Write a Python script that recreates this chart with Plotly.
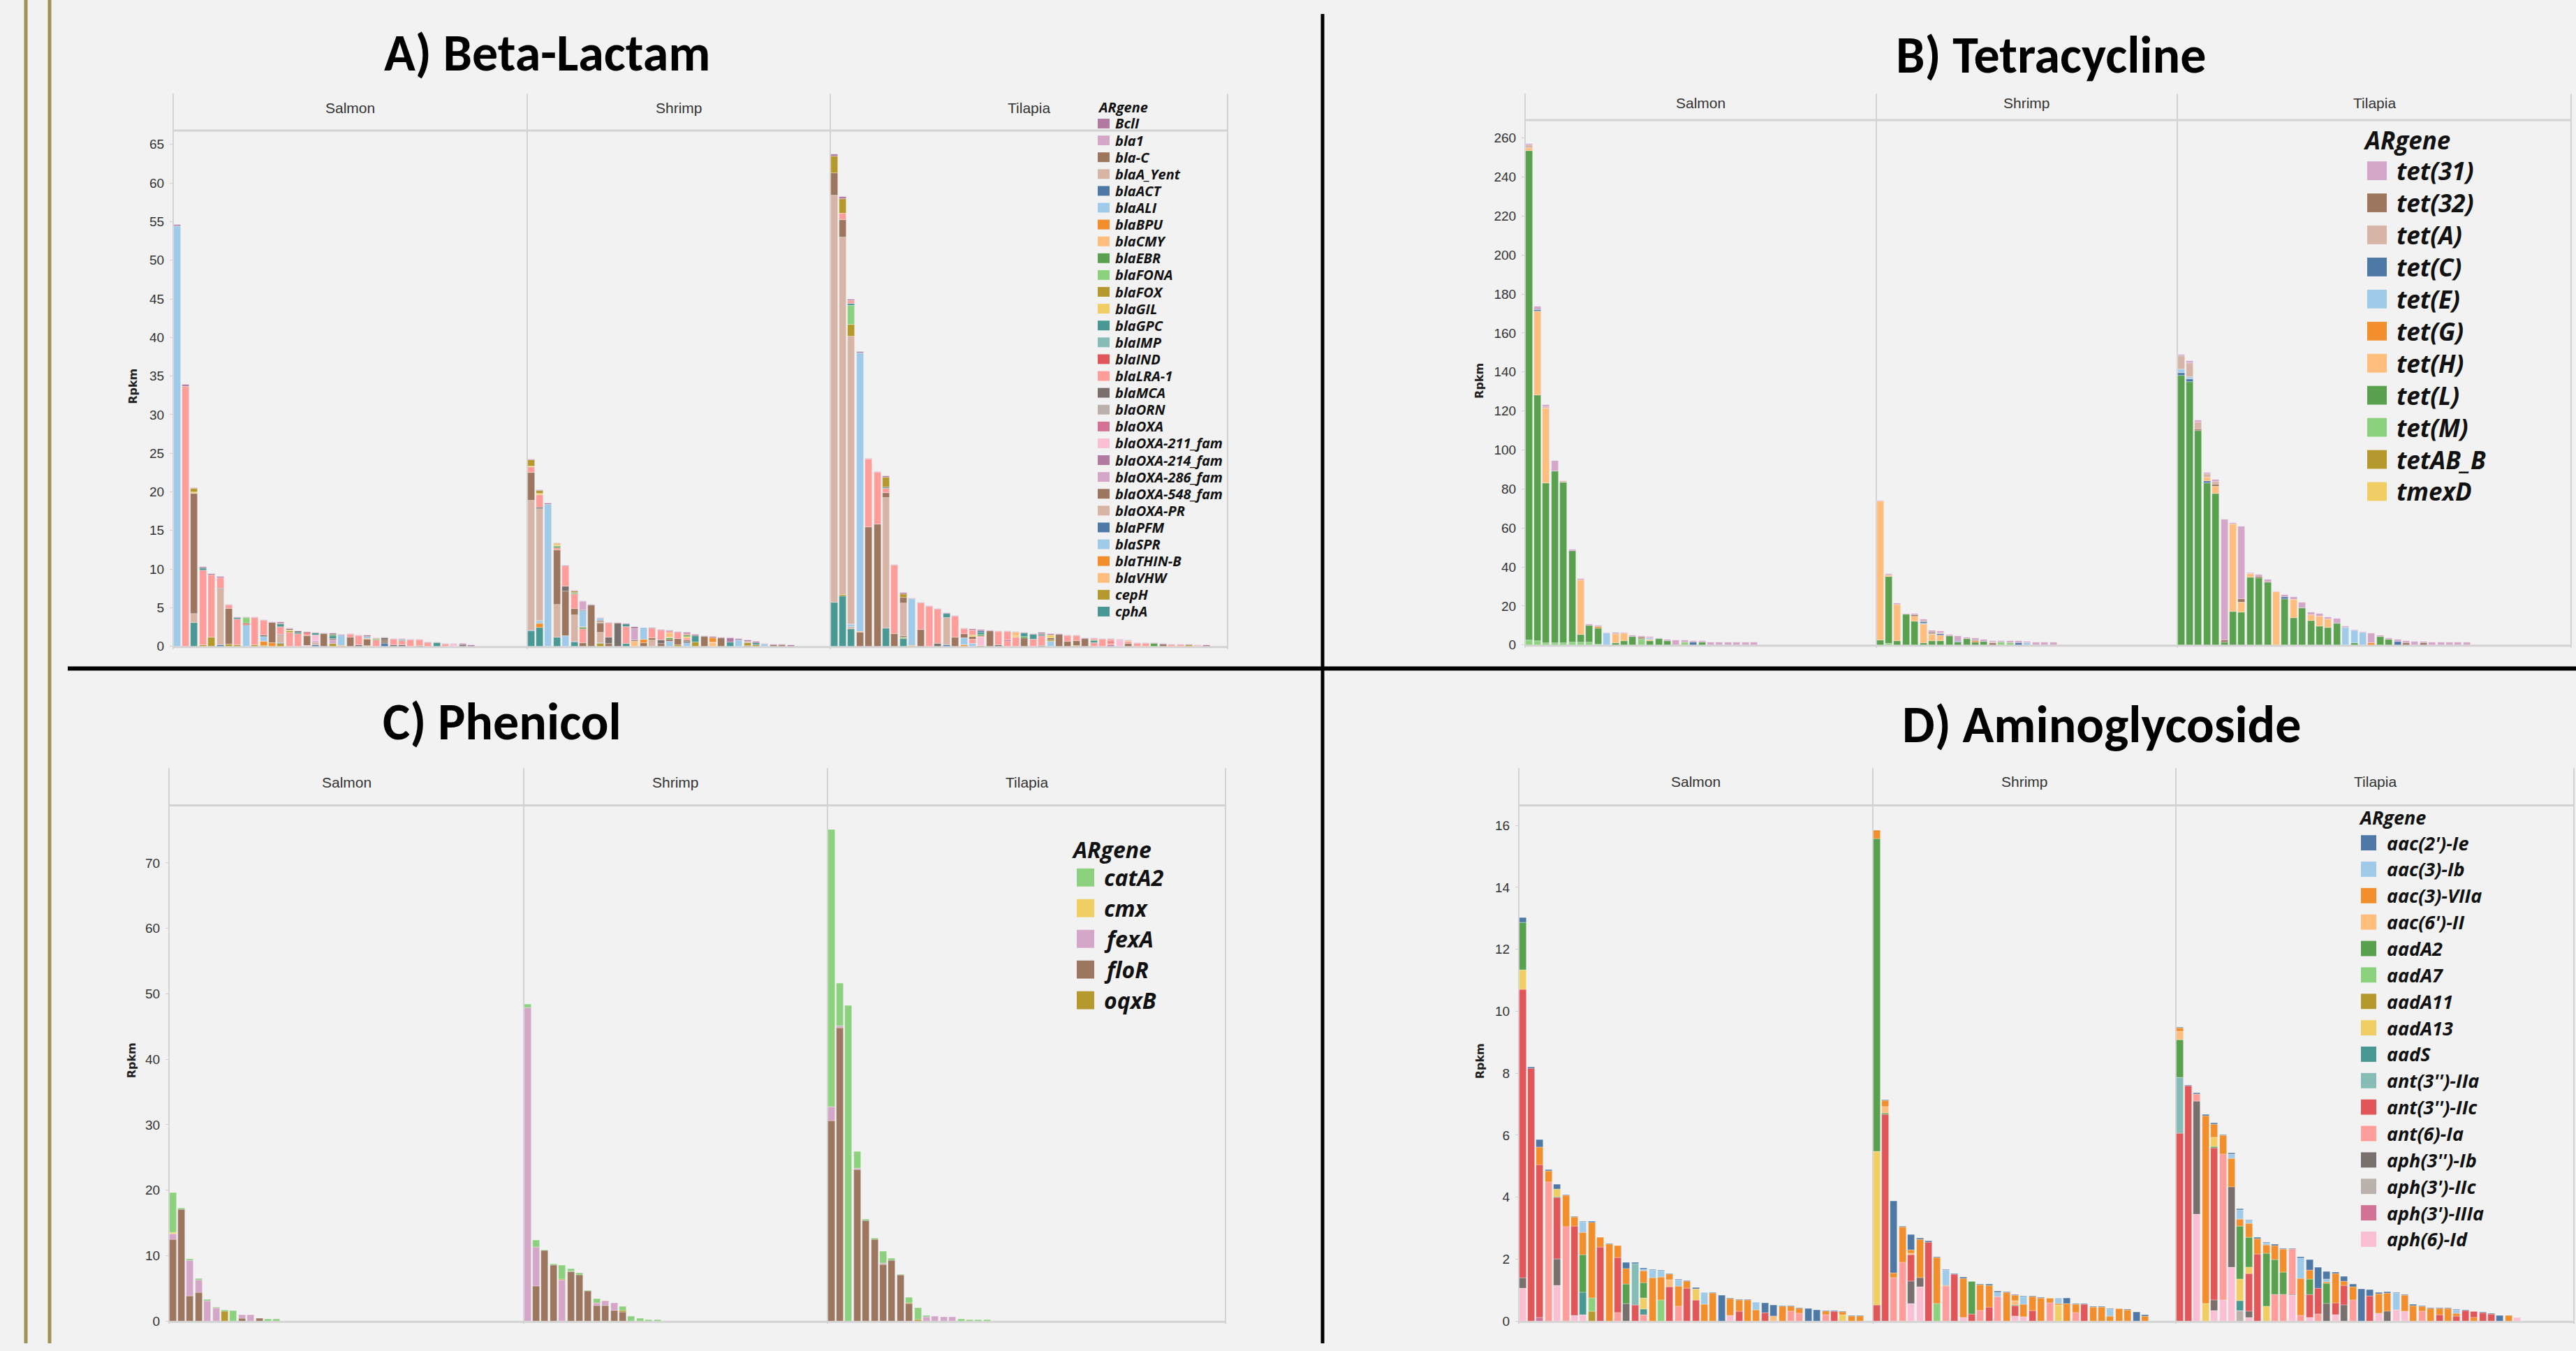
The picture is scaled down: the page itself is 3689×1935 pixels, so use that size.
import plotly.graph_objects as go

W, H = 3689, 1935
PITCH = 12.4


def fx(x):
    return x / W


def fy(y):
    return 1 - y / H


# Tableau-20 colour codes
COLORS = {"bl": "#4E79A7", "lb": "#A0CBE8", "or": "#F28E2B", "lo": "#FFBE7D", "gr": "#59A14F",
          "lg": "#8CD17D", "ol": "#B6992D", "ye": "#F1CE63", "te": "#499894", "lt": "#86BCB6",
          "rd": "#E15759", "lr": "#FF9D9A", "gy": "#79706E", "lgy": "#BAB0AC", "pk": "#D37295",
          "lp": "#FABFD2", "pu": "#B07AA1", "lpu": "#D4A6C8", "br": "#9D7660", "lbr": "#D7B5A6"}

FACETS = ["Salmon", "Shrimp", "Tilapia"]

# ---------------- legends (gene, colour code) ----------------
A_legend = [("BclI", "pu"), ("bla1", "lpu"), ("bla-C", "br"), ("blaA_Yent", "lbr"), ("blaACT", "bl"),
            ("blaALI", "lb"), ("blaBPU", "or"), ("blaCMY", "lo"), ("blaEBR", "gr"), ("blaFONA", "lg"),
            ("blaFOX", "ol"), ("blaGIL", "ye"), ("blaGPC", "te"), ("blaIMP", "lt"), ("blaIND", "rd"),
            ("blaLRA-1", "lr"), ("blaMCA", "gy"), ("blaORN", "lgy"), ("blaOXA", "pk"),
            ("blaOXA-211_fam", "lp"), ("blaOXA-214_fam", "pu"), ("blaOXA-286_fam", "lpu"),
            ("blaOXA-548_fam", "br"), ("blaOXA-PR", "lbr"), ("blaPFM", "bl"), ("blaSPR", "lb"),
            ("blaTHIN-B", "or"), ("blaVHW", "lo"), ("cepH", "ol"), ("cphA", "te")]
A_code_gene = {"pu": "BclI", "lpu": "bla1", "br": "bla-C", "lbr": "blaA_Yent", "bl": "blaACT",
               "lb": "blaALI", "or": "blaBPU", "lo": "blaCMY", "gr": "blaEBR", "lg": "blaFONA",
               "ol": "cepH", "ye": "blaGIL", "te": "cphA", "lt": "blaIMP", "rd": "blaIND",
               "lr": "blaLRA-1", "gy": "blaMCA", "lgy": "blaORN", "pk": "blaOXA", "lp": "blaOXA-211_fam"}

B_legend = [("tet(31)", "lpu"), ("tet(32)", "br"), ("tet(A)", "lbr"), ("tet(C)", "bl"), ("tet(E)", "lb"),
            ("tet(G)", "or"), ("tet(H)", "lo"), ("tet(L)", "gr"), ("tet(M)", "lg"), ("tetAB_B", "ol"),
            ("tmexD", "ye")]
C_legend = [("catA2", "lg"), ("cmx", "ye"), ("fexA", "lpu"), ("floR", "br"), ("oqxB", "ol")]
D_legend = [("aac(2')-Ie", "bl"), ("aac(3)-Ib", "lb"), ("aac(3)-VIIa", "or"), ("aac(6')-II", "lo"),
            ("aadA2", "gr"), ("aadA7", "lg"), ("aadA11", "ol"), ("aadA13", "ye"), ("aadS", "te"),
            ("ant(3'')-IIa", "lt"), ("ant(3'')-IIc", "rd"), ("ant(6)-Ia", "lr"), ("aph(3'')-Ib", "gy"),
            ("aph(3')-IIc", "lgy"), ("aph(3')-IIIa", "pk"), ("aph(6)-Id", "lp")]

# ---------------- data: each bar = stacked segments (colour code, Rpkm) bottom->top ----------------
A_salmon = [
    [("lb", 54.4), ("pu", 0.2)],
    [("lr", 33.6), ("pu", 0.3)],
    [("te", 3.06), ("lbr", 1.14), ("br", 15.6), ("ye", 0.2), ("ol", 0.45), ("pu", 0.1)],
    [("ol", 0.2), ("lr", 9.6), ("te", 0.33), ("pu", 0.2)],
    [("ol", 1.2), ("lr", 8.0), ("pu", 0.15)],
    [("bl", 0.2), ("lbr", 7.2), ("gy", 0.1), ("lr", 1.35), ("pu", 0.15)],
    [("ol", 0.25), ("br", 4.6), ("lr", 0.45), ("pu", 0.1)],
    [("ol", 0.2), ("lr", 3.33), ("te", 0.15), ("pu", 0.1)],
    [("lb", 2.7), ("br", 0.1), ("rd", 0.2), ("lg", 0.65), ("pu", 0.1)],
    [("ol", 0.2), ("lr", 3.45), ("pu", 0.1)],
    [("ol", 0.1), ("or", 0.5), ("lb", 0.65), ("gy", 0.15), ("lr", 1.9), ("pu", 0.1)],
    [("or", 0.45), ("br", 2.6), ("pu", 0.1)],
    [("ol", 0.3), ("bl", 0.1), ("lbr", 1.0), ("gy", 0.1), ("lr", 1.0), ("te", 0.35), ("br", 0.15), ("pu", 0.1)],
    [("lr", 1.8), ("ol", 0.15), ("ye", 0.15), ("br", 0.15), ("pu", 0.05)],
    [("lr", 1.65), ("te", 0.15), ("gy", 0.15)],
    [("lp", 0.1), ("br", 1.2), ("lr", 0.3), ("rd", 0.2), ("pu", 0.05)],
    [("bl", 0.15), ("lbr", 0.35), ("lpu", 0.2), ("lp", 0.7), ("te", 0.3), ("pu", 0.1)],
    [("br", 1.6), ("pu", 0.1)],
    [("ol", 0.3), ("lpu", 0.5), ("br", 0.15), ("te", 0.35), ("gr", 0.2), ("pu", 0.2)],
    [("or", 0.1), ("lb", 1.35), ("pu", 0.1)],
    [("br", 1.2), ("lr", 0.3), ("pu", 0.1)],
    [("gy", 0.2), ("lr", 1.15), ("pu", 0.1)],
    [("lbr", 0.1), ("br", 0.75), ("or", 0.1), ("lb", 0.3), ("pu", 0.15)],
    [("lr", 0.75), ("gr", 0.1), ("ol", 0.15), ("pu", 0.1)],
    [("bl", 0.35), ("gy", 0.2), ("br", 0.2), ("gy", 0.3), ("pu", 0.1)],
    [("gy", 0.15), ("lr", 0.7), ("pu", 0.15)],
    [("gy", 0.2), ("lr", 0.5), ("te", 0.1), ("lb", 0.1), ("pu", 0.05)],
    [("lr", 0.8), ("pu", 0.07)],
    [("br", 0.1), ("lr", 0.65), ("pu", 0.1)],
    [("lr", 0.3), ("rd", 0.1), ("pu", 0.1)],
    [("te", 0.4), ("pu", 0.1)],
    [("lr", 0.25), ("pu", 0.1)],
    [("lp", 0.25), ("pu", 0.1)],
    [("gy", 0.2), ("pu", 0.13)],
    [("pu", 0.15)],
]
A_shrimp = [
    [("te", 1.95), ("bl", 0.1), ("lbr", 16.8), ("br", 3.6), ("lr", 0.75), ("ye", 0.15), ("ol", 0.75), ("pu", 0.1)],
    [("te", 2.4), ("or", 0.6), ("lb", 0.2), ("bl", 0.1), ("lbr", 14.5), ("gy", 0.15), ("lr", 1.65), ("ye", 0.15), ("ol", 0.35), ("pu", 0.1)],
    [("lb", 18.3), ("pu", 0.2)],
    [("te", 1.15), ("lbr", 4.3), ("br", 7.0), ("lr", 0.3), ("gr", 0.15), ("te", 0.1), ("ye", 0.15), ("or", 0.1), ("pu", 0.1)],
    [("lb", 1.35), ("br", 5.8), ("gy", 0.6), ("lr", 2.6), ("pu", 0.1)],
    [("te", 0.5), ("bl", 0.1), ("lbr", 3.45), ("br", 0.8), ("lr", 1.9), ("gr", 0.1), ("te", 0.1), ("ol", 0.2), ("pu", 0.1)],
    [("br", 0.45), ("lr", 1.8), ("gr", 0.15), ("or", 0.1), ("lb", 2.1), ("gy", 0.1), ("lpu", 1.1), ("pu", 0.1)],
    [("br", 5.3), ("pu", 0.1)],
    [("ol", 0.3), ("bl", 0.1), ("lbr", 1.35), ("br", 1.2), ("gy", 0.1), ("or", 0.1), ("br", 0.15), ("lb", 0.3), ("pu", 0.1)],
    [("br", 0.3), ("gy", 0.9), ("lr", 1.75), ("pu", 0.1)],
    [("gy", 2.95), ("pu", 0.1)],
    [("te", 0.3), ("lr", 2.25), ("te", 0.3), ("pu", 0.1)],
    [("lo", 0.65), ("br", 0.15), ("lpu", 1.45), ("pu", 0.25)],
    [("br", 0.4), ("or", 0.5), ("lb", 1.5), ("pu", 0.05)],
    [("lbr", 0.75), ("br", 0.3), ("lr", 1.25), ("pu", 0.1)],
    [("br", 0.3), ("gy", 0.45), ("lr", 1.3), ("pu", 0.1)],
    [("lb", 0.65), ("br", 0.2), ("gr", 0.2), ("ye", 0.1), ("lo", 0.55), ("lr", 0.25), ("pu", 0.1)],
    [("ol", 0.15), ("br", 0.8), ("lr", 0.8), ("pu", 0.1)],
    [("lb", 0.45), ("gy", 0.2), ("br", 0.15), ("lr", 0.3), ("ye", 0.15), ("gr", 0.15), ("lr", 0.25), ("pu", 0.1)],
    [("ol", 0.55), ("te", 0.8), ("pu", 0.15)],
    [("br", 1.25), ("pu", 0.1)],
    [("lo", 0.4), ("lr", 0.15), ("or", 0.55), ("pu", 0.15)],
    [("br", 1.05), ("pu", 0.1)],
    [("te", 0.5), ("pu", 0.55), ("lpu", 0.1)],
    [("lb", 0.75), ("pu", 0.2)],
    [("br", 0.1), ("ol", 0.3), ("te", 0.1), ("lr", 0.15), ("pu", 0.15)],
    [("ol", 0.15), ("te", 0.3), ("pu", 0.2)],
    [("lb", 0.25), ("pu", 0.1)],
    [("br", 0.15), ("pu", 0.1)],
    [("br", 0.15), ("pu", 0.1)],
    [("pu", 0.12)],
]
A_tilapia = [
    [("te", 5.7), ("lbr", 52.7), ("br", 2.9), ("ol", 2.2), ("pu", 0.2)],
    [("te", 6.5), ("ol", 0.2), ("lbr", 46.3), ("br", 2.2), ("lr", 0.8), ("ol", 1.9), ("pu", 0.3)],
    [("te", 2.25), ("lbr", 0.3), ("lb", 0.2), ("pu", 0.1), ("lbr", 37.3), ("ol", 1.55), ("lg", 2.4), ("te", 0.3), ("lr", 0.3), ("pu", 0.2)],
    [("br", 1.8), ("or", 0.1), ("lb", 36.1), ("pu", 0.1)],
    [("br", 15.4), ("lr", 8.8), ("pu", 0.1)],
    [("br", 15.8), ("lr", 6.7), ("pu", 0.1)],
    [("te", 2.35), ("lbr", 16.85), ("br", 0.65), ("lr", 0.55), ("te", 0.2), ("ol", 1.3), ("pu", 0.1)],
    [("br", 1.6), ("lr", 8.9), ("pu", 0.1)],
    [("te", 0.95), ("ol", 0.1), ("gr", 0.1), ("br", 0.15), ("lbr", 4.25), ("br", 0.75), ("ol", 0.5), ("pu", 0.15)],
    [("or", 0.1), ("lb", 6.0), ("pu", 0.15)],
    [("br", 2.15), ("lr", 3.4), ("pu", 0.15)],
    [("lr", 5.1), ("pu", 0.15)],
    [("gy", 0.3), ("lr", 4.45), ("pu", 0.15)],
    [("bl", 0.15), ("lbr", 3.5), ("te", 0.55), ("pu", 0.15)],
    [("br", 1.2), ("lr", 2.65), ("pu", 0.1)],
    [("or", 0.2), ("lb", 0.85), ("br", 0.6), ("lr", 0.55), ("pu", 0.1)],
    [("lb", 0.35), ("lr", 0.5), ("br", 0.4), ("ye", 0.2), ("lr", 0.6), ("pu", 0.15)],
    [("br", 0.1), ("lp", 1.05), ("lr", 0.2), ("gr", 0.2), ("te", 0.25), ("bl", 0.2), ("pu", 0.15)],
    [("br", 1.95), ("pu", 0.1)],
    [("gy", 0.2), ("lr", 1.65), ("pu", 0.1)],
    [("lr", 0.6), ("pk", 0.2), ("lr", 1.05), ("pu", 0.1)],
    [("lr", 1.2), ("ye", 0.15), ("lo", 0.45), ("pu", 0.05)],
    [("br", 1.1), ("gr", 0.15), ("te", 0.45), ("pu", 0.1)],
    [("lr", 0.9), ("te", 0.6), ("pu", 0.1)],
    [("gy", 0.1), ("lr", 1.15), ("rd", 0.1), ("te", 0.15), ("br", 0.15), ("pu", 0.1)],
    [("lb", 0.6), ("ol", 0.2), ("br", 0.3), ("ye", 0.3), ("pu", 0.2)],
    [("br", 1.5), ("pu", 0.1)],
    [("br", 0.6), ("lr", 0.7), ("pu", 0.1)],
    [("ol", 0.1), ("br", 0.6), ("lr", 0.6), ("pu", 0.1)],
    [("br", 1.0), ("pu", 0.1)],
    [("lr", 0.4), ("te", 0.3), ("gr", 0.1), ("lr", 0.2), ("pu", 0.1)],
    [("lr", 0.9), ("pu", 0.1)],
    [("pu", 0.15), ("lr", 0.3), ("rd", 0.15), ("lr", 0.3), ("pu", 0.1)],
    [("lp", 0.8), ("pu", 0.1)],
    [("br", 0.3), ("lr", 0.3), ("ye", 0.1), ("pu", 0.1)],
    [("lr", 0.3), ("pu", 0.1)],
    [("lr", 0.3), ("pu", 0.1)],
    [("gr", 0.3), ("pu", 0.1)],
    [("br", 0.26), ("pu", 0.1)],
    [("lr", 0.15), ("pu", 0.1)],
    [("lr", 0.15), ("pu", 0.1)],
    [("ol", 0.15), ("pu", 0.1)],
    [("lr", 0.1), ("pu", 0.1)],
    [("pu", 0.2)],
]

B_salmon = [
    [("lg", 2.5), ("gr", 251.0), ("lo", 1.5), ("lbr", 1.2), ("lpu", 0.7)],
    [("lg", 2.0), ("gr", 126.0), ("lo", 43.0), ("bl", 0.8), ("lpu", 1.8)],
    [("lg", 1.0), ("gr", 82.0), ("lo", 38.4), ("lbr", 0.7), ("lpu", 1.1)],
    [("lg", 1.0), ("gr", 88.0), ("lpu", 5.4)],
    [("lg", 1.0), ("gr", 82.4), ("lbr", 0.8)],
    [("lg", 1.5), ("gr", 46.6), ("lpu", 1.0)],
    [("lg", 1.2), ("gr", 4.1), ("lo", 27.9), ("lpu", 0.6)],
    [("lg", 1.2), ("gr", 8.9), ("lpu", 0.6)],
    [("lg", 0.3), ("gr", 8.1), ("or", 0.8), ("lpu", 0.7)],
    [("lb", 5.9), ("lpu", 0.4)],
    [("gr", 0.9), ("lo", 4.9), ("lpu", 0.5)],
    [("gr", 2.1), ("lo", 3.8), ("lpu", 0.4)],
    [("gr", 4.2), ("lpu", 0.8)],
    [("lg", 2.6), ("gr", 0.6), ("br", 0.5), ("lpu", 0.8)],
    [("gr", 2.0), ("lo", 0.8), ("lb", 0.6), ("lpu", 0.8)],
    [("gr", 3.0), ("lpu", 0.6)],
    [("gr", 1.9), ("lpu", 0.7)],
    [("lpu", 2.4)],
    [("lg", 1.2), ("lpu", 1.2)],
    [("bl", 1.3), ("lpu", 0.7)],
    [("gr", 1.2), ("lpu", 0.8)],
    [("lpu", 1.5)],
    [("lpu", 1.4)],
    [("lpu", 1.4)],
    [("lpu", 1.3)],
    [("lpu", 1.3)],
    [("lpu", 1.2)],
]
B_shrimp = [
    [("gr", 2.4), ("lo", 71.2), ("lpu", 0.5)],
    [("lg", 0.5), ("gr", 34.4), ("lo", 0.8), ("lpu", 0.8)],
    [("gr", 2.1), ("lo", 18.4), ("lpu", 0.9)],
    [("gr", 15.7), ("lpu", 0.3)],
    [("gr", 12.1), ("lo", 2.5), ("br", 0.6), ("lpu", 0.9)],
    [("gr", 1.0), ("lo", 9.5), ("lb", 0.6), ("bl", 0.6), ("br", 0.5), ("lpu", 0.9)],
    [("gr", 2.1), ("lo", 3.2), ("lbr", 0.5), ("br", 0.5), ("lpu", 1.2)],
    [("gr", 2.1), ("lo", 2.9), ("bl", 0.5), ("lbr", 0.6), ("lpu", 0.8)],
    [("gr", 4.5), ("lpu", 0.6)],
    [("gr", 1.2), ("bl", 0.5), ("lpu", 2.8)],
    [("gr", 3.0), ("lpu", 0.8)],
    [("gr", 1.4), ("or", 0.5), ("bl", 0.5), ("lpu", 0.9)],
    [("gr", 1.8), ("lpu", 0.8)],
    [("br", 0.8), ("lbr", 0.4), ("lpu", 0.9)],
    [("lg", 1.2), ("lpu", 0.8)],
    [("lg", 1.1), ("lpu", 0.8)],
    [("bl", 1.1), ("lpu", 0.8)],
    [("lb", 1.0), ("lpu", 0.8)],
    [("lpu", 1.2)],
    [("lpu", 1.2)],
    [("lpu", 1.2)],
]
B_tilapia = [
    [("gr", 138.0), ("bl", 1.5), ("lb", 1.8), ("lbr", 7.0), ("lpu", 0.6)],
    [("gr", 134.8), ("bl", 1.5), ("lb", 1.2), ("lbr", 7.2), ("lpu", 0.9)],
    [("gr", 109.7), ("br", 1.0), ("lbr", 3.5), ("lpu", 0.9)],
    [("gr", 83.1), ("bl", 0.9), ("lo", 2.0), ("lbr", 1.5), ("lpu", 0.8)],
    [("gr", 77.6), ("lo", 3.7), ("br", 0.8), ("lbr", 1.6), ("lpu", 0.9)],
    [("gr", 1.5), ("br", 1.0), ("lpu", 62.0)],
    [("gr", 17.0), ("lo", 44.7), ("lpu", 0.7)],
    [("gr", 16.6), ("lo", 5.3), ("br", 1.7), ("lpu", 37.0)],
    [("gr", 34.5), ("lo", 1.8), ("lbr", 0.5), ("lpu", 0.5)],
    [("gr", 34.3), ("br", 0.8), ("lpu", 0.9)],
    [("gr", 32.3), ("lpu", 1.1)],
    [("lo", 27.0), ("lpu", 0.5)],
    [("gr", 23.5), ("bl", 1.0), ("lpu", 1.2)],
    [("gr", 13.7), ("lo", 9.4), ("lpu", 1.5)],
    [("gr", 18.8), ("lpu", 3.0)],
    [("gr", 12.6), ("lo", 2.8), ("lpu", 1.2)],
    [("gr", 9.4), ("lo", 5.2), ("lpu", 1.3)],
    [("gr", 8.7), ("lo", 4.6), ("lpu", 0.9)],
    [("gr", 10.9), ("lpu", 2.6)],
    [("lb", 8.7), ("lpu", 0.7)],
    [("gr", 0.8), ("lb", 6.5), ("lpu", 0.5)],
    [("lb", 6.3), ("lpu", 0.5)],
    [("or", 1.0), ("lpu", 5.1)],
    [("gr", 4.3), ("lpu", 0.7)],
    [("gr", 2.8), ("lpu", 0.7)],
    [("bl", 1.6), ("lpu", 1.2)],
    [("br", 1.0), ("lpu", 1.0)],
    [("lpu", 1.8)],
    [("br", 1.0), ("lpu", 0.6)],
    [("lpu", 1.4)],
    [("lpu", 1.3)],
    [("lpu", 1.2)],
    [("lpu", 1.2)],
    [("lpu", 1.2)],
]

C_salmon = [
    [("br", 12.5), ("lpu", 0.8), ("ye", 0.2), ("lg", 6.1)],
    [("br", 17.0), ("lg", 0.3)],
    [("br", 3.8), ("lpu", 5.5), ("lg", 0.2)],
    [("br", 4.3), ("lpu", 2.0), ("lg", 0.2)],
    [("lpu", 3.1), ("lg", 0.2)],
    [("lpu", 2.0), ("lg", 0.1)],
    [("ol", 1.5), ("lg", 0.2)],
    [("lg", 1.6)],
    [("br", 0.4), ("lpu", 0.5)],
    [("lpu", 0.9)],
    [("br", 0.45)],
    [("lg", 0.25)],
    [("lg", 0.25)],
]
C_shrimp = [
    [("lpu", 47.9), ("lg", 0.5)],
    [("br", 5.3), ("lpu", 6.0), ("lg", 1.0)],
    [("br", 10.7), ("lg", 0.2)],
    [("br", 8.5), ("lg", 0.2)],
    [("lpu", 6.3), ("ol", 0.1), ("lg", 2.1)],
    [("br", 7.5), ("ol", 0.1), ("lg", 0.4)],
    [("br", 7.0), ("lg", 0.3)],
    [("br", 4.6), ("lg", 0.1)],
    [("br", 2.3), ("lpu", 0.4), ("lg", 0.7)],
    [("br", 2.3), ("lpu", 0.8)],
    [("br", 1.6), ("lpu", 1.1)],
    [("br", 1.4), ("ol", 0.2), ("lg", 0.6)],
    [("lg", 0.7)],
    [("lg", 0.35)],
    [("lg", 0.2)],
    [("lg", 0.2)],
]
C_tilapia = [
    [("br", 30.6), ("lpu", 2.1), ("lg", 42.4)],
    [("br", 44.8), ("lpu", 0.3), ("lg", 6.5)],
    [("lg", 48.2)],
    [("br", 23.1), ("lpu", 0.2), ("lg", 2.6)],
    [("br", 15.3), ("lg", 0.2)],
    [("br", 12.5), ("lg", 0.2)],
    [("br", 8.6), ("lpu", 0.2), ("lg", 1.8)],
    [("br", 9.3), ("lg", 0.3)],
    [("br", 7.0), ("lg", 0.1)],
    [("br", 2.6), ("ol", 0.1), ("lg", 0.9)],
    [("ol", 0.2), ("lg", 1.8)],
    [("lpu", 0.6), ("lg", 0.2)],
    [("lpu", 0.75)],
    [("lpu", 0.65)],
    [("lpu", 0.6)],
    [("lg", 0.3)],
    [("lg", 0.2)],
    [("lg", 0.2)],
    [("lg", 0.2)],
]

D_salmon = [
    [("lp", 1.06), ("gy", 0.33), ("rd", 9.3), ("ye", 0.65), ("gr", 1.52), ("bl", 0.17)],
    [("rd", 8.15), ("bl", 0.05)],
    [("pk", 0.1), ("rd", 4.94), ("or", 0.56), ("bl", 0.26)],
    [("lr", 4.48), ("or", 0.36), ("bl", 0.04)],
    [("lp", 1.15), ("gy", 0.86), ("rd", 1.97), ("gr", 0.03), ("ye", 0.25), ("bl", 0.16)],
    [("lr", 3.03), ("or", 1.02), ("bl", 0.02)],
    [("lp", 0.17), ("rd", 2.89), ("or", 0.3), ("bl", 0.02)],
    [("lp", 0.2), ("te", 0.73), ("gr", 1.21), ("or", 0.72), ("lb", 0.34), ("bl", 0.02)],
    [("ol", 0.32), ("lg", 0.41), ("or", 2.45), ("bl", 0.04)],
    [("rd", 2.39), ("or", 0.3), ("bl", 0.01)],
    [("or", 2.47), ("bl", 0.02)],
    [("lr", 0.27), ("rd", 1.78), ("or", 0.37), ("bl", 0.02)],
    [("gy", 0.56), ("gr", 0.64), ("or", 0.49), ("bl", 0.19)],
    [("rd", 0.51), ("lt", 1.34), ("bl", 0.03)],
    [("lr", 0.2), ("te", 0.17), ("ye", 0.37), ("gr", 0.49), ("or", 0.39), ("lb", 0.05), ("bl", 0.03)],
    [("or", 1.4), ("lb", 0.25), ("bl", 0.02)],
    [("lg", 0.68), ("or", 0.74), ("lb", 0.2), ("bl", 0.02)],
    [("rd", 1.09), ("lo", 0.24), ("or", 0.18), ("bl", 0.01)],
    [("lr", 0.46), ("or", 0.66), ("lb", 0.21), ("bl", 0.02)],
    [("rd", 1.06), ("or", 0.23), ("bl", 0.01)],
    [("rd", 0.68), ("ye", 0.36), ("bl", 0.04)],
    [("or", 0.54), ("lb", 0.37), ("bl", 0.02)],
    [("or", 0.9), ("bl", 0.02)],
    [("bl", 0.84)],
    [("lp", 0.17), ("or", 0.54), ("bl", 0.02)],
    [("rd", 0.3), ("or", 0.38), ("bl", 0.02)],
    [("or", 0.67), ("bl", 0.02)],
    [("or", 0.35), ("lb", 0.25), ("bl", 0.01)],
    [("rd", 0.26), ("bl", 0.32)],
    [("lo", 0.16), ("bl", 0.35)],
    [("or", 0.47), ("bl", 0.02)],
    [("lr", 0.31), ("or", 0.16), ("bl", 0.02)],
    [("lr", 0.25), ("or", 0.15), ("bl", 0.02)],
    [("bl", 0.39)],
    [("bl", 0.36)],
    [("lr", 0.19), ("or", 0.12), ("bl", 0.02)],
    [("rd", 0.31), ("bl", 0.02)],
    [("ye", 0.2), ("or", 0.08), ("bl", 0.02)],
    [("or", 0.15), ("bl", 0.02)],
    [("or", 0.15), ("bl", 0.02)],
]
D_shrimp = [
    [("rd", 0.52), ("ye", 4.96), ("gr", 10.08), ("or", 0.27)],
    [("rd", 6.67), ("gr", 0.03), ("lo", 0.22), ("or", 0.2), ("bl", 0.03)],
    [("lr", 1.4), ("or", 0.15), ("bl", 2.33)],
    [("lr", 1.89), ("or", 1.14), ("bl", 0.03)],
    [("lp", 0.56), ("gy", 0.71), ("rd", 0.86), ("lo", 0.04), ("or", 0.13), ("bl", 0.5)],
    [("lp", 1.1), ("gy", 0.3), ("or", 1.23), ("bl", 0.05)],
    [("rd", 2.55), ("bl", 0.03)],
    [("lg", 0.56), ("or", 1.48), ("bl", 0.02)],
    [("lr", 1.12), ("or", 0.03), ("lb", 0.49), ("bl", 0.03)],
    [("rd", 1.5), ("bl", 0.02)],
    [("lp", 0.1), ("or", 1.27), ("bl", 0.04)],
    [("rd", 0.21), ("gr", 1.06), ("bl", 0.02)],
    [("lr", 0.34), ("or", 0.82), ("bl", 0.02)],
    [("rd", 0.45), ("or", 0.7), ("bl", 0.03)],
    [("lr", 0.78), ("lb", 0.13), ("bl", 0.05)],
    [("or", 0.92), ("bl", 0.02)],
    [("lp", 0.15), ("rd", 0.34), ("gr", 0.03), ("lo", 0.13), ("or", 0.18), ("bl", 0.03)],
    [("lp", 0.13), ("or", 0.41), ("lb", 0.24), ("bl", 0.03)],
    [("rd", 0.33), ("or", 0.46), ("bl", 0.02)],
    [("or", 0.75), ("bl", 0.02)],
    [("lr", 0.59), ("or", 0.14), ("bl", 0.02)],
    [("ye", 0.52), ("or", 0.03), ("lb", 0.18), ("bl", 0.02)],
    [("or", 0.55), ("bl", 0.2)],
    [("lr", 0.27), ("or", 0.26), ("bl", 0.02)],
    [("rd", 0.53), ("bl", 0.02)],
    [("or", 0.44), ("bl", 0.02)],
    [("or", 0.44), ("bl", 0.02)],
    [("or", 0.15), ("lb", 0.23), ("bl", 0.03)],
    [("or", 0.39), ("bl", 0.02)],
    [("or", 0.36), ("bl", 0.02)],
    [("bl", 0.28)],
    [("or", 0.15), ("bl", 0.04)],
]
D_tilapia = [
    [("rd", 6.06), ("lt", 1.79), ("gr", 1.23), ("lo", 0.26), ("or", 0.11), ("bl", 0.04)],
    [("rd", 7.6), ("bl", 0.02)],
    [("lp", 3.45), ("gy", 3.64), ("lr", 0.22), ("bl", 0.05)],
    [("ye", 0.56), ("or", 6.07), ("bl", 0.04)],
    [("lp", 0.34), ("gy", 0.32), ("rd", 4.93), ("gr", 0.03), ("ye", 0.3), ("or", 0.44), ("bl", 0.04)],
    [("lp", 0.66), ("lr", 4.73), ("or", 0.59), ("bl", 0.04)],
    [("lp", 1.73), ("gy", 2.59), ("or", 0.93), ("lb", 0.13), ("bl", 0.04)],
    [("lgy", 0.34), ("te", 0.3), ("ye", 0.71), ("gr", 1.72), ("or", 0.21), ("lb", 0.3), ("bl", 0.04)],
    [("lp", 0.1), ("gy", 0.22), ("rd", 1.21), ("ye", 0.21), ("gr", 0.97), ("or", 0.43), ("lb", 0.09), ("bl", 0.04)],
    [("rd", 2.15), ("or", 0.5), ("bl", 0.04)],
    [("ye", 0.47), ("gr", 1.7), ("or", 0.28), ("lb", 0.06), ("bl", 0.04)],
    [("lr", 0.86), ("gr", 1.12), ("or", 0.45), ("bl", 0.04)],
    [("lr", 0.86), ("gr", 0.71), ("or", 0.75), ("bl", 0.03)],
    [("lp", 0.82), ("gy", 0.03), ("lr", 1.47), ("bl", 0.03)],
    [("lr", 0.17), ("or", 1.2), ("lb", 0.65), ("bl", 0.04)],
    [("lp", 0.1), ("rd", 0.75), ("gr", 0.5), ("or", 0.28), ("bl", 0.34)],
    [("lr", 0.22), ("rd", 0.84), ("bl", 0.67)],
    [("gy", 0.55), ("gr", 0.67), ("or", 0.03), ("lb", 0.1), ("bl", 0.25)],
    [("lp", 0.19), ("rd", 0.39), ("or", 0.95), ("bl", 0.05)],
    [("gy", 0.51), ("rd", 0.64), ("or", 0.13), ("bl", 0.15)],
    [("lr", 0.67), ("or", 0.43), ("bl", 0.08)],
    [("bl", 1.03)],
    [("rd", 0.81), ("bl", 0.19)],
    [("lp", 0.25), ("or", 0.62), ("bl", 0.05)],
    [("gy", 0.3), ("or", 0.6), ("bl", 0.04)],
    [("lp", 0.35), ("lb", 0.55), ("bl", 0.02)],
    [("lp", 0.3), ("or", 0.53), ("bl", 0.02)],
    [("or", 0.5), ("bl", 0.04)],
    [("lr", 0.3), ("or", 0.17), ("bl", 0.02)],
    [("or", 0.4), ("bl", 0.02)],
    [("rd", 0.2), ("or", 0.2), ("bl", 0.02)],
    [("or", 0.4), ("bl", 0.02)],
    [("rd", 0.15), ("or", 0.1), ("lb", 0.1), ("bl", 0.03)],
    [("rd", 0.33), ("bl", 0.02)],
    [("or", 0.1), ("rd", 0.2), ("bl", 0.01)],
    [("rd", 0.27), ("bl", 0.01)],
    [("rd", 0.23), ("bl", 0.01)],
    [("bl", 0.17)],
    [("or", 0.17)],
    [("lp", 0.1)],
]

# ---------------- layout description (pixel positions) ----------------
PANELS = [
    dict(title="A) Beta-Lactam", title_xy=(548, 76), edges=[248, 755, 1189, 1758], hdr_top=135, hdr_bot=188,
         hdr_y=155, bottom=931, ymax=66.8, dtick=5, rpkm_xy=(191, 557), data=[A_salmon, A_shrimp, A_tilapia],
         legend=A_legend, code_gene=A_code_gene,
         leg=dict(title_xy=(1570, 154), y0=178, dy=24.24, sw_x=1572, sw_w=17, sw_h=14, tx=1595, size=20)),
    dict(title="B) Tetracycline", title_xy=(2713, 79), edges=[2184, 2687, 3118, 3682], hdr_top=135, hdr_bot=173,
         hdr_y=148, bottom=929, ymax=269.2, dtick=20, rpkm_xy=(2119, 549), data=[B_salmon, B_shrimp, B_tilapia],
         legend=B_legend, code_gene=None,
         leg=dict(title_xy=(3382, 202), y0=246, dy=46.2, sw_x=3390, sw_w=28, sw_h=27, tx=3430, size=35)),
    dict(title="C) Phenicol", title_xy=(546, 1040), edges=[242, 750, 1185, 1755], hdr_top=1106, hdr_bot=1160,
         hdr_y=1127, bottom=1903, ymax=78.8, dtick=10, rpkm_xy=(188, 1528), data=[C_salmon, C_shrimp, C_tilapia],
         legend=C_legend, code_gene=None,
         leg=dict(title_xy=(1533, 1223), y0=1264, dy=44.2, sw_x=1542, sw_w=25, sw_h=26, tx=1579, size=32)),
    dict(title="D) Aminoglycoside", title_xy=(2722, 1044), edges=[2175, 2682, 3116, 3686], hdr_top=1106,
         hdr_bot=1160, hdr_y=1126, bottom=1903, ymax=16.65, dtick=2, rpkm_xy=(2119, 1529),
         data=[D_salmon, D_shrimp, D_tilapia], legend=D_legend, code_gene=None,
         leg=dict(title_xy=(3376, 1177), y0=1214, dy=38.07, sw_x=3381, sw_w=22, sw_h=22, tx=3416, size=27)),
]

BG = "#F2F2F2"
TITLE_FONT = "Carlito, 'Liberation Sans Narrow', 'Arial Narrow', 'Liberation Sans', sans-serif"
TXT_FONT = "'Liberation Sans', Arial, sans-serif"
LEG_FONT = "'Open Sans', 'DejaVu Sans', sans-serif"
LINE_C = "#D3D3D3"

fig = go.Figure()
layout = dict(width=W, height=H, margin=dict(l=0, r=0, t=0, b=0), paper_bgcolor=BG,
              plot_bgcolor="rgba(0,0,0,0)", barmode="overlay", showlegend=False, bargap=0)
shapes = []
annotations = []

for pi, P in enumerate(PANELS):
    code_gene = P["code_gene"] or {c: g for g, c in P["legend"]}
    e = P["edges"]
    for f in range(3):
        idx = pi * 3 + f + 1
        xn = "x" if idx == 1 else f"x{idx}"
        yn = "y" if idx == 1 else f"y{idx}"
        # stack segments
        tr = {}
        for i, bar in enumerate(P["data"][f]):
            cum = 0.0
            for code, v in bar:
                t = tr.setdefault(code, ([], [], []))
                t[0].append(i)
                t[1].append(v)
                t[2].append(cum)
                cum += v
        for code, (xs, ys, bs) in tr.items():
            fig.add_trace(go.Bar(x=xs, y=ys, base=bs, width=0.8, name=code_gene[code],
                                 marker=dict(color=COLORS[code],
                                             line=dict(width=0.6, color="rgba(255,255,255,0.55)")),
                                 xaxis=xn, yaxis=yn, showlegend=False,
                                 hovertemplate=FACETS[f] + "<br>" + code_gene[code] + ": %{y}<extra></extra>"))
        nslots = (e[f + 1] - e[f]) / PITCH
        layout["xaxis" if idx == 1 else f"xaxis{idx}"] = dict(
            domain=[fx(e[f]), fx(e[f + 1])], range=[-0.45, nslots - 0.45], anchor=yn,
            showgrid=False, zeroline=False, showticklabels=False, showline=False, ticks="")
        layout["yaxis" if idx == 1 else f"yaxis{idx}"] = dict(
            domain=[fy(P["bottom"]), fy(P["hdr_bot"])], range=[0, P["ymax"]], anchor=xn,
            showgrid=False, zeroline=False, showline=False, tick0=0, dtick=P["dtick"],
            showticklabels=(f == 0), ticks="outside" if f == 0 else "", ticklen=4, tickcolor="#CFCFCF",
            ticklabelstandoff=4, tickfont=dict(family=TXT_FONT, size=19, color="#333333"))
        # facet header label
        annotations.append(dict(text=FACETS[f], x=fx((e[f] + e[f + 1]) / 2), y=fy(P["hdr_y"]),
                                xref="paper", yref="paper", showarrow=False, xanchor="center",
                                yanchor="middle", font=dict(family=TXT_FONT, size=21, color="#333333")))
    # facet frame lines
    for xe in e:
        shapes.append(dict(type="line", xref="paper", yref="paper", x0=fx(xe), x1=fx(xe),
                           y0=fy(P["hdr_top"]), y1=fy(P["bottom"] + 4), line=dict(color=LINE_C, width=2),
                           layer="below"))
    shapes.append(dict(type="line", xref="paper", yref="paper", x0=fx(e[0]), x1=fx(e[-1]),
                       y0=fy(P["hdr_bot"]), y1=fy(P["hdr_bot"]), line=dict(color=LINE_C, width=3),
                       layer="below"))
    shapes.append(dict(type="line", xref="paper", yref="paper", x0=fx(e[0]), x1=fx(e[-1]),
                       y0=fy(P["bottom"] + 1), y1=fy(P["bottom"] + 1), line=dict(color=LINE_C, width=3),
                       layer="below"))
    # panel title
    annotations.append(dict(text="<b>" + P["title"] + "</b>", x=fx(P["title_xy"][0]), y=fy(P["title_xy"][1]),
                            xref="paper", yref="paper", showarrow=False, xanchor="left", yanchor="middle",
                            font=dict(family=TITLE_FONT, size=74, color="#000000")))
    # y axis title
    annotations.append(dict(text="<b>Rpkm</b>", x=fx(P["rpkm_xy"][0]), y=fy(P["rpkm_xy"][1]), textangle=-90,
                            xref="paper", yref="paper", showarrow=False, xanchor="center", yanchor="middle",
                            font=dict(family="'DejaVu Sans', sans-serif", size=16, color="#222222")))
    # legend
    L = P["leg"]
    annotations.append(dict(text="<b><i>ARgene</i></b>", x=fx(L["title_xy"][0]), y=fy(L["title_xy"][1]),
                            xref="paper", yref="paper", showarrow=False, xanchor="left", yanchor="middle",
                            font=dict(family=LEG_FONT, size=L["size"], color="#111111")))
    for k, (gene, code) in enumerate(P["legend"]):
        yc = L["y0"] + k * L["dy"]
        shapes.append(dict(type="rect", xref="paper", yref="paper", x0=fx(L["sw_x"]),
                           x1=fx(L["sw_x"] + L["sw_w"]), y0=fy(yc - L["sw_h"] / 2), y1=fy(yc + L["sw_h"] / 2),
                           fillcolor=COLORS[code], line=dict(width=0)))
        annotations.append(dict(text="<b><i>" + gene + "</i></b>", x=fx(L["tx"]), y=fy(yc), xref="paper",
                                yref="paper", showarrow=False, xanchor="left", yanchor="middle",
                                font=dict(family=LEG_FONT, size=L["size"], color="#111111")))

# page frame: olive double rule on the left, black panel dividers
for xo in (37, 71):
    shapes.append(dict(type="line", xref="paper", yref="paper", x0=fx(xo), x1=fx(xo), y0=0, y1=1,
                       line=dict(color="#A09358", width=5)))
shapes.append(dict(type="line", xref="paper", yref="paper", x0=fx(1894), x1=fx(1894), y0=fy(20), y1=0,
                   line=dict(color="#000000", width=5)))
shapes.append(dict(type="line", xref="paper", yref="paper", x0=fx(97), x1=1, y0=fy(963), y1=fy(963),
                   line=dict(color="#000000", width=6)))

layout["shapes"] = shapes
layout["annotations"] = annotations
fig.update_layout(**layout)
fig.write_html("out.html", config={"displayModeBar": False},
               post_script="document.body.style.margin='0';document.body.style.overflow='hidden';")
